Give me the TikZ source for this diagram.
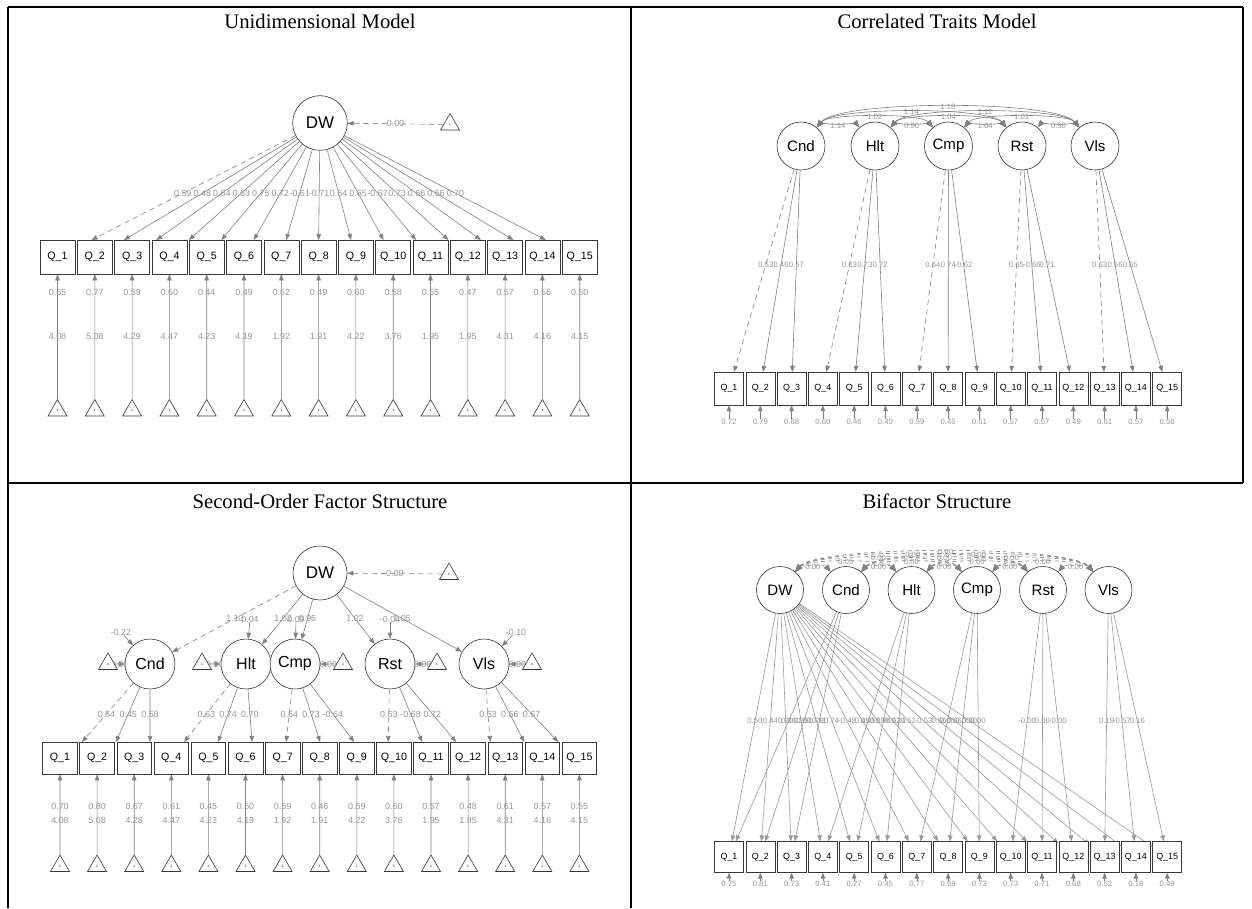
\documentclass[tikz,border=0pt]{standalone}
\usepackage{fontspec}
\setmainfont{Liberation Serif}
\setsansfont{Liberation Sans}
\usetikzlibrary{calc,arrows.meta,backgrounds,shapes.geometric}
\definecolor{edgec}{RGB}{128,128,128}
\definecolor{labc}{RGB}{150,150,150}
\definecolor{nodec}{RGB}{55,55,55}
\newcommand{\myfs}[1]{\fontsize{#1}{#1}\selectfont}
\tikzset{
  lat/.style={circle,draw=nodec,fill=white,line width=0.45pt,inner sep=0pt,font=\sffamily},
  obs/.style={rectangle,draw=nodec,fill=white,line width=0.45pt,inner sep=0pt,font=\sffamily},
  tri/.style={regular polygon,regular polygon sides=3,draw=nodec,fill=white,line width=0.45pt,inner sep=0pt,minimum size=16.5pt,font=\sffamily\myfs{2.5}},
  ld/.style={draw=edgec,line width=0.45pt,-{Triangle[length=4.5pt,width=3.4pt]}},
  fixed/.style={ld,dash pattern=on 4pt off 3pt},
  lab/.style={text=labc,font=\sffamily\myfs{6.7},inner sep=0pt},
  labs/.style={text=labc,font=\sffamily\myfs{5.8},inner sep=0pt},
  cov/.style={draw=edgec,line width=0.45pt,{Triangle[length=5.5pt,width=4.5pt]}-{Triangle[length=5.5pt,width=4.5pt]}},
  dcov/.style={cov,dash pattern=on 3pt off 2.5pt},
  ttl/.style={font=\myfs{15.5}}
}
\begin{document}
\begin{tikzpicture}[x=0.75pt,y=-0.75pt]
\useasboundingbox (0,0) rectangle (1252,908);
% frame
\draw[line width=1.2pt] (8,7) -- (1243,7);
\draw[line width=1.2pt] (8,483) -- (1243,483);
\draw[line width=1.2pt] (8,7) -- (8,908);
\draw[line width=1.2pt] (631,7) -- (631,908);
\draw[line width=1.2pt] (1243,7) -- (1243,483);

% titles
\node[ttl] (t1) at (320,21) {Unidimensional Model};
\node[ttl] (t2) at (937,21) {Correlated Traits Model};
\node[ttl] (t3) at (320,501) {Second-Order Factor Structure};
\node[ttl] (t4) at (937,501) {Bifactor Structure};

%%%%%%%% Panel 1: unidimensional
\node[lat,minimum size=41pt,font=\sffamily\myfs{12.7}] (aDW) at (320,123) {DW};
\node[tri] (aT0) at (450,124.5) {1};
\foreach \s/\v/\r/\m [count=\i] in {fixed/0.59/0.65/4.08, ld/0.48/0.77/5.08, ld/0.64/0.59/4.29, ld/0.63/0.60/4.47, ld/0.75/0.44/4.23, ld/0.72/0.49/4.19, ld/-0.61/0.62/1.92, ld/-0.71/0.49/1.91, ld/0.64/0.60/4.22, ld/0.65/0.58/3.76, ld/-0.67/0.55/1.95, ld/0.73/0.47/1.95, ld/0.66/0.57/4.31, ld/0.66/0.56/4.16, ld/0.70/0.50/4.15}{
  \pgfmathsetmacro{\xx}{57.5+37.3*(\i-1)}
  \pgfmathsetmacro{\ux}{319+0.87*(\xx-319)}
  \node[obs,minimum width=26.25pt,minimum height=25.5pt,font=\sffamily\myfs{8}] (a\i) at (\xx,257) {Q\_\i};
  \coordinate (au\i) at (\ux,240);
  \node[tri] (aT\i) at (\xx,410.5) {1};
  \begin{scope}[on background layer]
  \draw[\s] (aDW) -- (au\i);
  \node[lab] (al\i) at ($(aDW.center)!0.6!(au\i)$) {\v};
  \draw[ld] (aT\i) -- (a\i);
  \node[lab] (ar\i) at (\xx,292) {\r};
  \node[lab] (am\i) at (\xx,336) {\m};
  \end{scope}
}
\begin{scope}[on background layer]
\draw[fixed] (aT0) -- node[lab]{0.00} (aDW);
\end{scope}

%%%%%%%% Panel 2: correlated traits
\foreach \n/\xx in {Cnd/801,Hlt/875,Cmp/948.5,Rst/1022,Vls/1095}{
  \node[lat,minimum size=36pt,font=\sffamily\myfs{11.3}] (b\n) at (\xx,146) {\n};
}
\foreach \r [count=\i] in {0.72,0.79,0.68,0.60,0.46,0.49,0.59,0.45,0.61,0.57,0.57,0.49,0.61,0.57,0.58}{
  \pgfmathsetmacro{\xx}{729+31.3*(\i-1)}
  \node[obs,minimum width=21.75pt,minimum height=24.5pt,font=\sffamily\myfs{6.7}] (b\i) at (\xx,388.5) {Q\_\i};
  \node[labs] (br\i) at (\xx,421.5) {\r};
  \draw[ld] (br\i) -- (b\i);
}
\foreach \f/\q/\v/\s in {Cnd/1/0.53/fixed,Cnd/2/0.46/ld,Cnd/3/0.57/ld,Hlt/4/0.63/fixed,Hlt/5/0.73/ld,Hlt/6/0.72/ld,Cmp/7/0.64/fixed,Cmp/8/0.74/ld,Cmp/9/-0.62/ld,Rst/10/0.65/fixed,Rst/11/-0.66/ld,Rst/12/0.71/ld,Vls/13/0.63/fixed,Vls/14/0.66/ld,Vls/15/0.65/ld}{
  \draw[\s] (b\f) -- node[labs,pos=0.47]{\v} (b\q);
}
\foreach \a/\b/\c/\l in {Cnd/Hlt/3/1.14,Hlt/Cmp/3/0.90,Cmp/Rst/3/1.04,Rst/Vls/3/0.98,Cnd/Cmp/18.5/1.02,Hlt/Rst/18.5/1.04,Cmp/Vls/18.5/1.01,Cnd/Rst/27/1.14,Hlt/Vls/27/1.11,Cnd/Vls/36/1.18}{
  \draw[cov] (b\a.50) .. controls +(0.643*\c,-0.766*\c) and +(-0.643*\c,-0.766*\c) .. node[labs,pos=0.5]{\l} (b\b.130);
}

%%%%%%%% Panel 3: second order
\node[lat,minimum size=40.5pt,font=\sffamily\myfs{12.7}] (cDW) at (320,573) {DW};
\node[tri] (cT0) at (449,574) {1};
\foreach \n/\xx/\tx in {Cnd/150/108,Hlt/246/202,Cmp/295/343,Rst/390/437,Vls/484/532}{
  \node[lat,minimum size=37.5pt,font=\sffamily\myfs{12}] (c\n) at (\xx,664) {\n};
  \node[tri] (cT\n) at (\tx,664) {1};
  \begin{scope}[on background layer]
  \draw[ld] (cT\n) -- node[lab]{0.00} (c\n);
  \end{scope}
}
\begin{scope}[on background layer]
\draw[fixed] (cT0) -- node[lab]{0.00} (cDW);
\foreach \n/\s/\v in {Cnd/fixed/1.10,Hlt/ld/1.02,Cmp/ld/0.96,Rst/ld/1.02,Vls/ld/1.05}{
  \draw[\s] (cDW) -- (c\n);
  \node[lab] (cl\n) at ($(cDW)!0.5!(c\n)$) {\v};
}
\foreach \n/\x/\y/\v in {Cnd/121/632/-0.22,Hlt/250/619/0.04,Cmp/296/619/0.09,Rst/390/619/-0.04,Vls/516/632/-0.10}{
  \node[lab] (cr\n) at (\x,\y) {\v};
  \draw[ld] (cr\n) -- (c\n);
}
\end{scope}
\foreach \f/\s/\v/\r/\m [count=\i] in {Cnd/fixed/0.54/0.70/4.08, Cnd/ld/0.45/0.80/5.08, Cnd/ld/0.58/0.67/4.28, Hlt/fixed/0.63/0.61/4.47, Hlt/ld/0.74/0.45/4.23, Hlt/ld/0.70/0.50/4.19, Cmp/fixed/0.64/0.59/1.92, Cmp/ld/0.73/0.46/1.91, Cmp/ld/-0.64/0.59/4.22, Rst/fixed/0.63/0.60/3.76, Rst/ld/-0.68/0.57/1.95, Rst/ld/0.72/0.48/1.95, Vls/fixed/0.63/0.61/4.31, Vls/ld/0.66/0.57/4.16, Vls/ld/0.67/0.55/4.15}{
  \pgfmathsetmacro{\xx}{60+37.1*(\i-1)}
  \pgfmathsetmacro{\ux}{325+0.917*(\xx-325)}
  \node[obs,minimum width=26pt,minimum height=24pt,font=\sffamily\myfs{8}] (c\i) at (\xx,758) {Q\_\i};
  \coordinate (cu\i) at (\ux,742);
  \node[tri] (cT\i) at (\xx,866) {1};
  \begin{scope}[on background layer]
  \draw[\s] (c\f) -- (cu\i);
  \node[lab] (cl\i) at ($(c\f.center)!0.64!(cu\i)$) {\v};
  \draw[ld] (cT\i) -- (c\i);
  \node[lab] (cr\i) at (\xx,806) {\r};
  \node[lab] (cm\i) at (\xx,820.5) {\m};
  \end{scope}
}

%%%%%%%% Panel 4: bifactor
\foreach \n/\xx in {DW/780,Cnd/846,Hlt/911.5,Cmp/977,Rst/1043,Vls/1108.5}{
  \node[lat,minimum size=35.25pt,font=\sffamily\myfs{11.3}] (d\n) at (\xx,590) {\n};
}
\foreach \g/\d/\v/\r [count=\i] in {Cnd/0.50/0.36/0.75, Cnd/0.44/0.00/0.81, Cnd/0.30/0.11/0.73, Hlt/0.85/0.45/0.41, Hlt/0.79/0.36/0.27, Hlt/0.74/0.11/0.45, Cmp/-0.48/0.00/0.77, Cmp/0.45/0.00/0.69, Cmp/0.59/0.00/0.73, Rst/0.62/-0.00/0.73, Rst/0.52/0.00/0.71, Rst/-0.53/-0.00/0.68, Vls/0.56/0.19/0.52, Vls/0.66/-0.57/0.18, Vls/0.60/0.16/0.49}{
  \pgfmathsetmacro{\xx}{729+31.3*(\i-1)}
  \node[obs,minimum width=21.75pt,minimum height=23pt,font=\sffamily\myfs{6.7}] (d\i) at (\xx,857) {Q\_\i};
  \node[labs] (dr\i) at (\xx,884) {\r};
  \draw[ld] (dr\i) -- (d\i);
  \begin{scope}[on background layer]
  \draw[ld,draw=edgec!80] (dDW) -- (d\i);
  \node[labs] (dl\i) at ($(dDW.center)!0.49!(d\i.center)$) {\d};
  \draw[ld,draw=edgec!80] (d\g) -- (d\i);
  \node[labs] (dg\i) at ($(d\g.center)!0.49!(d\i.center)$) {\v};
  \end{scope}
}
\foreach \a/\b/\c/\l in {DW/Cnd/9/0.00,Cnd/Hlt/9/0.00,Hlt/Cmp/9/0.00,Cmp/Rst/9/0.00,Rst/Vls/9/0.00,DW/Hlt/17/0.05,Cnd/Cmp/17/0.00,Hlt/Rst/17/0.00,Cmp/Vls/17/0.00,DW/Cmp/24/0.00,Cnd/Rst/24/0.00,Hlt/Vls/24/-0.00,DW/Rst/30/-0.00,Cnd/Vls/30/-0.00,DW/Vls/35/-0.00}{
  \draw[dcov] (d\a.50) .. controls +(0.643*\c,-0.766*\c) and +(-0.643*\c,-0.766*\c) .. node[labs,pos=0.5]{\l} (d\b.130);
}
\end{tikzpicture}
\end{document}
